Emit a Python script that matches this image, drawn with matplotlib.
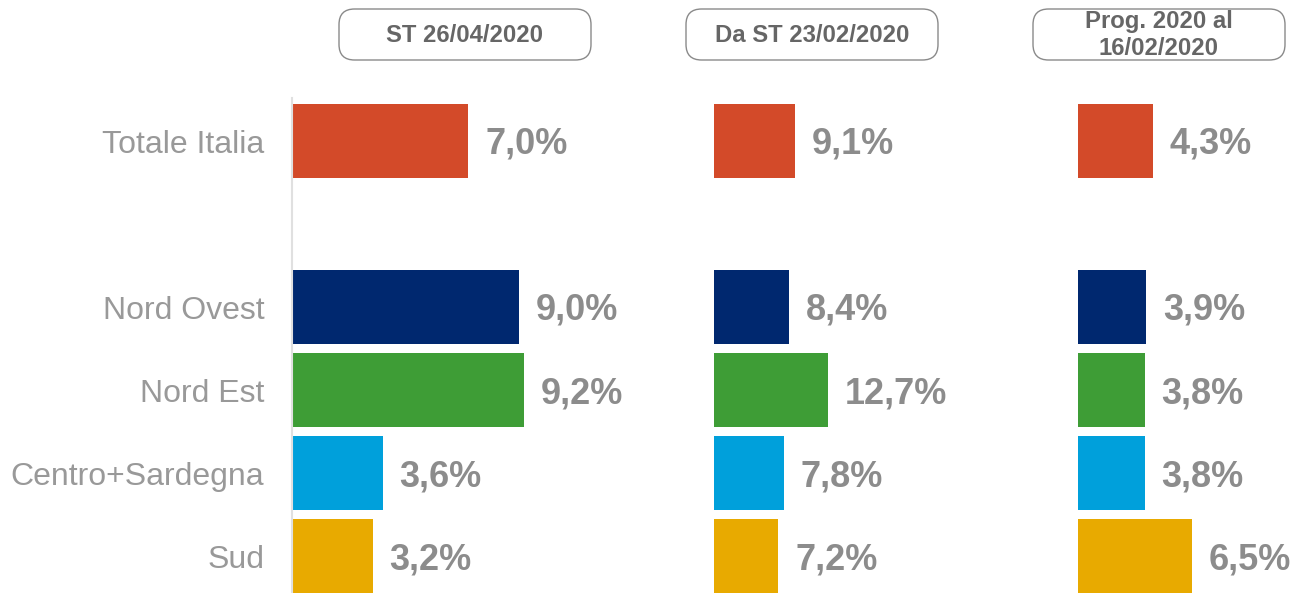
import matplotlib
matplotlib.use("Agg")
import matplotlib.pyplot as plt
from matplotlib.patches import FancyBboxPatch

plt.rcParams['font.family'] = ['Liberation Sans', 'DejaVu Sans']

categories = ["Totale Italia", "Nord Ovest", "Nord Est", "Centro+Sardegna", "Sud"]
positions = [0, 2, 3, 4, 5]
colors = ["#D34A29", "#00286F", "#3E9D36", "#00A0DB", "#E8AA00"]
headers = ["ST 26/04/2020", "Da ST 23/02/2020", "Prog. 2020 al\n16/02/2020"]
values_st = [7.0, 9.0, 9.2, 3.6, 3.2]
values_da_st = [9.1, 8.4, 12.7, 7.8, 7.2]
values_prog = [4.3, 3.9, 3.8, 3.8, 6.5]
series = [values_st, values_da_st, values_prog]

W, H = 1297, 593
fig = plt.figure(figsize=(W / 100, H / 100), dpi=100)

# panel layout in pixels: (left, right, xmax)
panels = [(292, 640, 348 / 25.2), (714, 1000, 286 / 8.95), (1078, 1297, 219 / 17.5)]
boxes = [(339, 591), (686, 938), (1033, 1285)]
top_px, bot_px = 98, 593

for i, ((l, r, xmax), vals) in enumerate(zip(panels, series)):
    ax = fig.add_axes([l / W, (H - bot_px) / H, (r - l) / W, (bot_px - top_px) / H])
    ax.barh(positions, vals, height=0.89, color=colors)
    ax.set_xlim(0, xmax)
    ax.set_ylim(5.445, -0.518)
    ax.set_xticks([])
    for s in ["top", "right", "bottom"]:
        ax.spines[s].set_visible(False)
    if i == 0:
        ax.spines["left"].set_color("#E0E0E0")
        ax.spines["left"].set_linewidth(1.5)
        ax.set_yticks(positions)
        ax.set_yticklabels(categories, fontsize=23, color="#999999")
        ax.tick_params(axis="y", length=0, pad=20)
    else:
        ax.spines["left"].set_visible(False)
        ax.set_yticks([])
    ax.patch.set_alpha(0)
    for p, v in zip(positions, vals):
        ax.annotate(f"{v:.1f}%".replace(".", ","), xy=(v, p), xytext=(12, -2.5),
                    textcoords="offset points", va="center", ha="left",
                    fontsize=26, fontweight="bold", color="#8C8C8C",
                    annotation_clip=False)

# header boxes
for (bl, br), txt in zip(boxes, headers):
    bx = FancyBboxPatch((bl / W, (H - 60) / H), (br - bl) / W, 51 / H,
                        boxstyle="round,pad=0,rounding_size=0.012",
                        transform=fig.transFigure, facecolor="white",
                        edgecolor="#8A8A8A", linewidth=1.0,
                        mutation_aspect=W / H)
    fig.patches.append(bx)
    fig.text((bl + br) / 2 / W, (H - 35) / H, txt, ha="center", va="center",
             fontsize=17.2, fontweight="bold", color="#666666", linespacing=1.25)

fig.savefig("out.png", dpi=100)
